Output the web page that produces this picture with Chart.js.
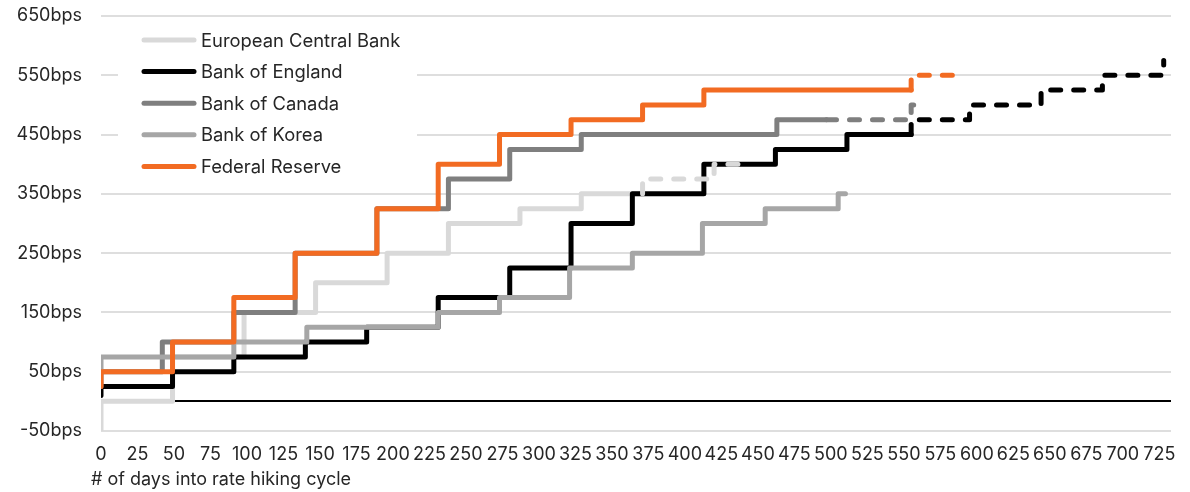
<!DOCTYPE html>
<html>
<head>
<meta charset="utf-8">
<script src="https://cdn.jsdelivr.net/npm/chart.js@4.4.1/dist/chart.umd.min.js"></script>
<style>
html,body{margin:0;padding:0;background:#ffffff;}
#wrap{width:1190px;height:492px;position:relative;}
</style>
</head>
<body>
<div id="wrap"><canvas id="c"></canvas></div>
<script>
// ---- data (days into hiking cycle, cumulative hikes in bps) ----
const seriesNames  = ['European Central Bank', 'Bank of England', 'Bank of Canada', 'Bank of Korea', 'Federal Reserve'];
const seriesColors = ['#d9d9d9', '#000000', '#7f7f7f', '#a6a6a6', '#f26b22'];

const ecbDays     = [0, 0, 49, 98, 147, 196, 238, 287, 329, 371];
const ecbBps      = [-50, 0, 75, 150, 200, 250, 300, 325, 350, 350];
const ecbProjDays = [371, 371, 420, 439];
const ecbProjBps  = [350, 375, 400, 400];

const boeDays     = [0, 0, 49, 91, 140, 182, 231, 280, 322, 364, 413, 462, 511, 555];
const boeBps      = [10, 25, 50, 75, 100, 125, 175, 225, 300, 350, 400, 425, 450, 450];
const boeProjDays = [555, 555, 595, 644, 686, 728];
const boeProjBps  = [450, 475, 500, 525, 550, 575];

const bocDays     = [0, 0, 42, 91, 133, 189, 238, 280, 329, 463, 497];
const bocBps      = [25, 50, 100, 150, 250, 325, 375, 425, 450, 475, 475];
const bocProjDays = [497, 555, 555, 561];
const bocProjBps  = [475, 475, 500, 500];

const bokDays     = [0, 0, 91, 141, 231, 273, 321, 364, 412, 455, 505, 510];
const bokBps      = [50, 75, 100, 125, 150, 175, 225, 250, 300, 325, 350, 350];

const fedDays     = [0, 0, 49, 91, 133, 189, 231, 273, 322, 371, 413, 555];
const fedBps      = [25, 50, 100, 175, 250, 325, 400, 450, 475, 500, 525, 525];
const fedProjDays = [555, 555, 587];
const fedProjBps  = [525, 550, 550];

const yTickValues = [-50, 50, 150, 250, 350, 450, 550, 650];
const yMin = -50, yMax = 650;
const xMin = 0, xMax = 733, xTickStep = 25;
const xAxisTitle = '# of days into rate hiking cycle';

// ---- build datasets ----
function pts(days, vals) { return days.map((d, i) => ({ x: d, y: vals[i] })); }
const solid = [
  pts(ecbDays, ecbBps), pts(boeDays, boeBps), pts(bocDays, bocBps), pts(bokDays, bokBps), pts(fedDays, fedBps)
];
const proj = [
  pts(ecbProjDays, ecbProjBps), pts(boeProjDays, boeProjBps), pts(bocProjDays, bocProjBps), null, pts(fedProjDays, fedProjBps)
];
const LW = 5;
const datasets = [];
seriesNames.forEach((name, i) => {
  datasets.push({
    label: name, data: solid[i], borderColor: seriesColors[i], backgroundColor: seriesColors[i],
    borderWidth: LW, stepped: true, pointRadius: 0, borderCapStyle: 'round', borderJoinStyle: 'round',
    fill: false, order: 10 - i, isLegend: true
  });
});
seriesNames.forEach((name, i) => {
  if (!proj[i]) return;
  datasets.push({
    label: name + ' (expected)', data: proj[i], borderColor: seriesColors[i], backgroundColor: seriesColors[i],
    borderWidth: LW, stepped: true, pointRadius: 0, borderCapStyle: 'round', borderJoinStyle: 'round',
    borderDash: [10, 13], fill: false, order: 5 - i, isLegend: false
  });
});

const TXT = '#262626';
const FONT = 'Inter';

const legendPlugin = {
  id: 'customLegend',
  afterDraw(chart) {
    const ctx = chart.ctx;
    ctx.save();
    ctx.fillStyle = '#ffffff';
    ctx.fillRect(118, 22, 299, 162);
    const rows = chart.data.datasets.filter(d => d.isLegend);
    rows.forEach((d, i) => {
      const y = 40 + i * 31.6;
      ctx.strokeStyle = d.borderColor;
      ctx.lineWidth = 5;
      ctx.lineCap = 'round';
      ctx.beginPath(); ctx.moveTo(144, y); ctx.lineTo(194, y); ctx.stroke();
      ctx.fillStyle = TXT;
      ctx.font = '18.4px ' + FONT;
      ctx.textAlign = 'left';
      ctx.textBaseline = 'middle';
      ctx.fillText(d.label, 201, y + 1);
    });
    // axis title
    ctx.font = '18px ' + FONT;
    ctx.textBaseline = 'middle';
    ctx.fillText(xAxisTitle, chart.chartArea.left - 10, 480);
    ctx.restore();
  }
};

function draw() {
  new Chart(document.getElementById('c'), {
    type: 'line',
    data: { datasets },
    options: {
      responsive: true, maintainAspectRatio: false, animation: false,
      layout: { padding: { left: 0, right: 19, top: 16, bottom: 0 } },
      plugins: { legend: { display: false }, tooltip: { enabled: false } },
      scales: {
        x: {
          type: 'linear', min: xMin, max: xMax,
          grid: { display: false, drawTicks: false },
          border: { display: false },
          ticks: { stepSize: xTickStep, includeBounds: false, autoSkip: false, maxRotation: 0, minRotation: 0,
                   padding: 13, color: TXT, font: { family: FONT, size: 18 } },
          afterFit(s) { s.height = 61; s.paddingLeft = 0; s.paddingRight = 0; }
        },
        y: {
          type: 'linear', min: yMin, max: yMax,
          afterBuildTicks(s) {
            s.ticks = yTickValues.concat([0]).sort((a, b) => a - b).map(v => ({ value: v }));
          },
          grid: {
            drawTicks: false,
            color: c => (c.tick && c.tick.value === 0) ? '#000000' : '#dedede',
            lineWidth: 2
          },
          border: { display: false },
          ticks: { padding: 19, color: TXT, font: { family: FONT, size: 18 },
                   callback: v => v === 0 ? '' : v + 'bps' },
          afterFit(s) { s.width = 101; s.paddingTop = 0; s.paddingBottom = 0; }
        }
      }
    },
    plugins: [legendPlugin]
  });
}
if (document.fonts && document.fonts.load) {
  Promise.all([document.fonts.load('16px Inter'), document.fonts.load('18px Inter')]).then(draw, draw);
} else { draw(); }
</script>
</body>
</html>
